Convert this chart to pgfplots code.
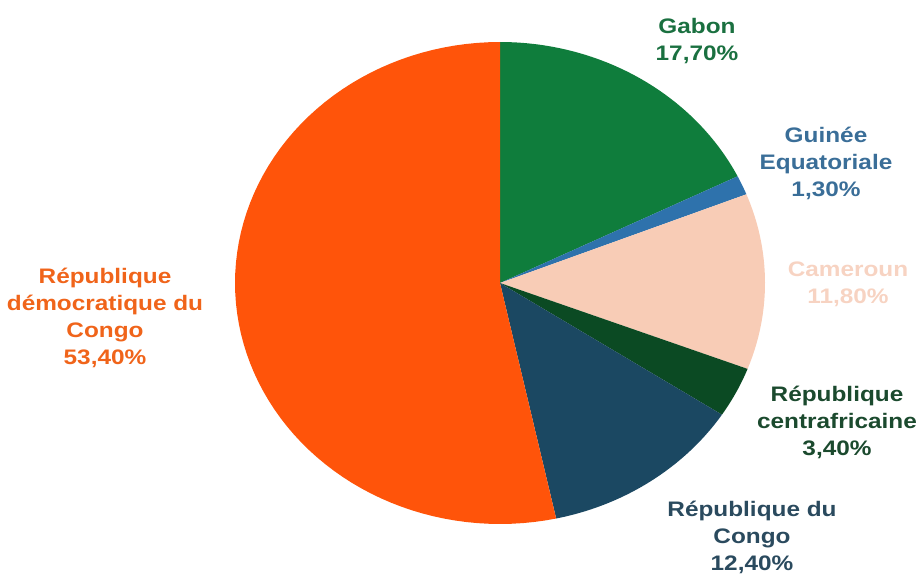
\documentclass[border=0pt]{standalone}
\usepackage{pgfplots}
\pgfplotsset{compat=1.18}
\usepackage{fontspec}
\setmainfont[FakeStretch=1.16]{Liberation Sans}
\definecolor{cGabon}{HTML}{0F7D3C}
\definecolor{cGuinee}{HTML}{2E72AC}
\definecolor{cCam}{HTML}{F8CCB6}
\definecolor{cRCA}{HTML}{0B4A23}
\definecolor{cCongo}{HTML}{1B4862}
\definecolor{cRDC}{HTML}{FF540A}
\definecolor{tGabon}{HTML}{1A7040}
\definecolor{tGuinee}{HTML}{3A6E98}
\definecolor{tCam}{HTML}{F7D3C2}
\definecolor{tRCA}{HTML}{1B4A2E}
\definecolor{tCongo}{HTML}{2A4A5E}
\definecolor{tRDC}{HTML}{F0641A}
% slice shares in percent (clockwise from 12 o'clock):
% Gabon 17.7, Guinee Eq. 1.3, Cameroun 11.8, RCA 3.4, Rep. du Congo 12.4, RDC 53.4
\newcommand{\slice}[3]{% color, start angle, end angle (degrees, clockwise)
  \addplot[draw=none, fill=#1, domain=#3:#2, samples=80]
    ({500+265*cos(x)}, {291+241*sin(x)}) -- (axis cs:500,291) -- cycle;}
\begin{document}
\begin{tikzpicture}
\useasboundingbox (0,0) rectangle (924pt,574pt);
\begin{axis}[
  at={(0,0)}, anchor=south west,
  width=924pt, height=574pt, scale only axis,
  xmin=0, xmax=924, ymin=0, ymax=574,
  hide axis, clip=false,
  font=\bfseries\fontsize{21}{27}\selectfont,
]
% angles: 90 - 3.6*cumulative
\slice{cGabon}{90}{26.28}
\slice{cGuinee}{26.28}{21.6}
\slice{cCam}{21.6}{-20.88}
\slice{cRCA}{-20.88}{-33.12}
\slice{cCongo}{-33.12}{-77.76}
\slice{cRDC}{-77.76}{-270}
\node[align=center, text=tGabon] at (axis cs:697,533) {Gabon\\17,70\%};
\node[align=center, text=tGuinee] at (axis cs:826,411) {Guinée\\Equatoriale\\1,30\%};
\node[align=center, text=tCam] at (axis cs:848,290) {Cameroun\\11,80\%};
\node[align=center, text=tRCA] at (axis cs:837,152) {République\\centrafricaine\\3,40\%};
\node[align=center, text=tCongo] at (axis cs:752,37) {République du\\Congo\\12,40\%};
\node[align=center, text=tRDC] at (axis cs:105,256) {République\\démocratique du\\Congo\\53,40\%};
\end{axis}
\end{tikzpicture}
\end{document}
